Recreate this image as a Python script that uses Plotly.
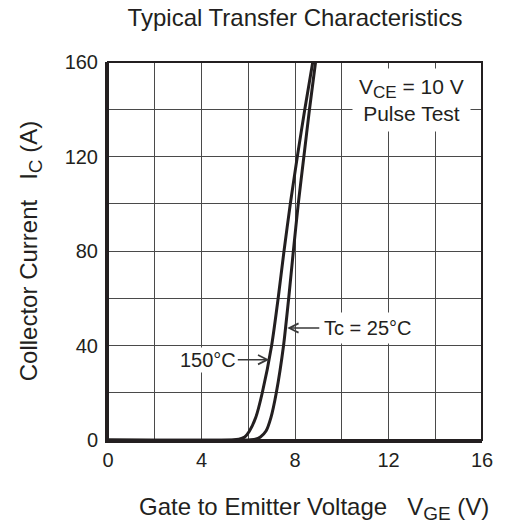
import plotly.graph_objects as go

# ---- data ----
vge_150 = [0, 5.3, 5.6, 5.85, 6.04, 6.32, 6.6, 7.0, 7.28, 7.53, 7.8, 8.1, 8.42, 8.76]
ic_150 = [0, 0, 0.3, 1.3, 3.6, 9.5, 20, 40, 60, 80, 100, 120, 140, 160]

vge_25 = [0, 6.0, 6.3, 6.52, 6.76, 6.97, 7.2, 7.51, 7.73, 7.93, 8.14, 8.38, 8.62, 8.88]
ic_25 = [0, 0, 0.3, 1.3, 3.8, 9.5, 20, 40, 60, 80, 100, 120, 140, 160]

x_tick_vals = [0, 4, 8, 12, 16]
x_tick_text = ["0", "4", "8", "12", "16"]
y_tick_vals = [0, 40, 80, 120, 160]
y_tick_text = ["0", "40", "80", "120", "160"]

INK = "#231f20"
GRID = "#4a4a4a"
FONT = "Liberation Sans, Arial, sans-serif"

fig = go.Figure()
for xs, ys, name in [(vge_150, ic_150, "150°C"), (vge_25, ic_25, "Tc = 25°C")]:
    fig.add_trace(go.Scatter(
        x=xs, y=ys, mode="lines", name=name,
        line=dict(color=INK, width=3, shape="spline", smoothing=0.5),
        showlegend=False, hoverinfo="skip",
    ))

grid_common = dict(showgrid=True, gridcolor=GRID, gridwidth=1.3, zeroline=False,
                   showline=True, linecolor=INK, linewidth=3, ticks="")

fig.update_layout(
    width=505, height=526,
    margin=dict(l=108, r=17.5, t=62, b=86, pad=0),
    paper_bgcolor="white", plot_bgcolor="white",
    font=dict(family=FONT, color=INK, size=20),
    title=dict(text="Typical Transfer Characteristics", x=0.5, xref="paper",
               xanchor="center", y=1 - 18 / 526, yref="container", yanchor="middle",
               font=dict(size=24, color=INK, family=FONT)),
    xaxis=dict(range=[0, 16], tickvals=x_tick_vals, ticktext=x_tick_text,
               minor=dict(tick0=0, dtick=2, showgrid=True, gridcolor=GRID,
                          gridwidth=1.3, ticks=""),
               tickfont=dict(size=20, color=INK), ticklabelstandoff=0,
               **grid_common),
    yaxis=dict(range=[0, 160], tickvals=y_tick_vals, ticktext=y_tick_text,
               minor=dict(tick0=0, dtick=20, showgrid=True, gridcolor=GRID,
                          gridwidth=1.3, ticks=""),
               tickfont=dict(size=20, color=INK), ticklabelstandoff=3,
               title=dict(text="Collector Current\u00a0\u00a0\u00a0I<sub><span style=\"font-size:19px\">C</span></sub>\u00a0(A)",
                          font=dict(size=24, color=INK), standoff=21),
               **grid_common),
)

# plot frame (top/right thinner)
fig.add_shape(type="rect", xref="paper", yref="paper", x0=0, x1=1, y0=0, y1=1,
              line=dict(color=INK, width=2), layer="above")

# x-axis title
fig.add_annotation(text="Gate to Emitter Voltage\u00a0\u00a0\u00a0V<sub><span style=\"font-size:19px\">GE</span></sub>\u00a0(V)",
                   xref="paper", yref="paper", x=(316.7 - 108) / 379.5, y=-(508 - 440) / 378,
                   xanchor="center", yanchor="middle", showarrow=False,
                   font=dict(size=24, color=INK))

# condition box
fig.add_annotation(text="V<sub><span style=\"font-size:17px\">CE</span></sub> = 10 V<br>Pulse Test",
                   x=13.0, y=144, xref="x", yref="y", showarrow=False, bgcolor="white",
                   borderpad=6, align="center", font=dict(size=21, color=INK))

# curve labels with arrows
fig.add_annotation(text="150°C", x=6.9, y=34, xref="x", yref="y",
                   ax=-61, ay=0, showarrow=True, arrowhead=5, arrowsize=1.3,
                   arrowwidth=1.4, arrowcolor="#3a3a3a", standoff=0,
                   bgcolor="white", borderpad=1, font=dict(size=20, color=INK))
fig.add_annotation(text="Tc = 25°C", x=7.67, y=47.4, xref="x", yref="y",
                   ax=80, ay=0, showarrow=True, arrowhead=5, arrowsize=1.3,
                   arrowwidth=1.4, arrowcolor="#3a3a3a", standoff=0,
                   bgcolor="white", borderpad=4, font=dict(size=20, color=INK))

fig.write_html("out.html")
